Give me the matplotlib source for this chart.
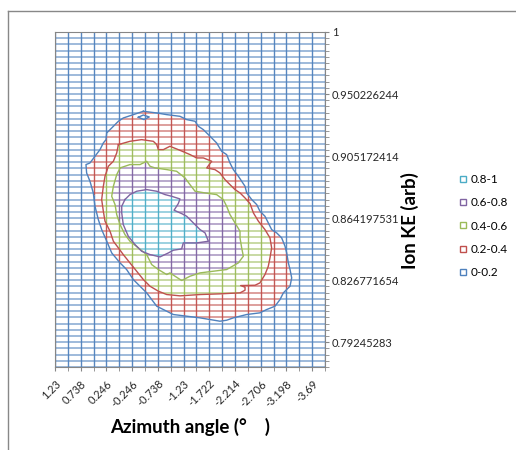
import matplotlib.pyplot as plt
import numpy as np
from matplotlib.collections import LineCollection
from matplotlib.lines import Line2D
from matplotlib.path import Path

plt.rcParams['font.family'] = ['Lato', 'DejaVu Sans']

# categories: azimuth columns and ion KE rows (every 2nd / 10th labelled)
azimuth_labels = ['1.23', '0.738', '0.246', '-0.246', '-0.738', '-1.23',
                  '-1.722', '-2.214', '-2.706', '-3.198', '-3.69']
ke_labels = ['1', '0.950226244', '0.905172414', '0.864197531',
             '0.826771654', '0.79245283']
n_cols = 22
n_rows = 55

band_names = ['0-0.2', '0.2-0.4', '0.4-0.6', '0.6-0.8', '0.8-1']
band_colors = ['#4F81BD', '#C0504D', '#9BBB59', '#8064A2', '#4BACC6']

# contour outlines, in (column, row) units
level_02 = [(6.87, 12.78), (7.91, 13.05), (8.69, 13.32), (9.72, 13.59), (10.24, 14.12),
            (10.89, 14.39), (11.15, 15.2), (11.54, 15.74), (12.06, 16.81), (12.57, 17.88),
            (12.96, 19.23), (13.35, 19.76), (13.61, 21.11), (13.87, 22.18), (14.26, 23.25),
            (14.52, 24.06), (14.78, 24.87), (14.91, 25.94), (15.3, 27.01), (15.69, 27.82),
            (15.94, 28.89), (16.33, 29.7), (16.59, 30.77), (16.85, 31.85), (17.24, 32.38),
            (17.63, 33.19), (17.89, 34.53), (18.02, 35.61), (18.15, 37.22), (18.28, 38.29),
            (18.41, 39.63), (18.28, 40.98), (18.02, 41.51), (17.76, 42.05), (17.5, 43.13),
            (17.11, 44.2), (16.46, 44.74), (15.94, 45.27), (14.91, 45.54), (13.87, 46.08),
            (13.35, 46.46), (12.83, 46.62), (12.06, 46.35), (11.28, 46.08), (10.24, 45.81),
            (9.2, 45.54), (8.43, 44.74), (7.91, 44.2), (7.13, 42.05), (6.61, 40.98),
            (6.09, 39.9), (5.57, 38.29), (5.06, 37.22), (4.41, 35.61), (3.97, 33.46),
            (3.63, 31.85), (3.37, 30.24), (3.11, 28.09), (2.98, 25.94), (2.72, 24.06),
            (2.46, 22.72), (2.41, 21.37), (2.72, 21.11), (3.11, 20.03), (3.5, 18.96),
            (3.76, 17.88), (3.97, 17.35), (4.02, 16.27), (4.28, 15.74), (4.54, 15.2),
            (4.93, 14.39), (5.31, 13.86), (6.09, 13.32)]
island_02 = [(6.48, 13.75), (6.87, 13.38), (7.33, 13.7), (6.92, 14.12)]
level_04 = [(4.93, 18.15), (5.83, 17.62), (6.74, 17.35), (7.65, 17.62), (7.91, 18.15),
            (8.04, 18.96), (8.43, 18.96), (8.94, 18.42), (9.72, 19.07), (10.5, 19.76),
            (11.02, 20.3), (11.54, 20.3), (12.19, 20.84), (11.8, 21.91), (12.44, 22.18),
            (12.83, 22.72), (13.22, 23.79), (13.61, 24.6), (14.0, 25.4), (14.39, 25.94),
            (14.78, 26.75), (15.17, 27.66), (15.43, 29.16), (15.82, 30.5), (16.33, 31.85),
            (16.72, 33.19), (16.85, 34.8), (16.72, 36.41), (16.59, 37.76), (16.33, 39.1),
            (15.94, 40.44), (15.56, 40.82), (14.44, 40.87), (14.78, 41.14), (14.78, 41.62),
            (14.39, 42.05), (12.83, 42.21), (11.28, 42.32), (9.72, 42.53), (8.69, 42.32),
            (8.04, 41.78), (7.39, 40.98), (6.87, 39.9), (6.35, 38.56), (5.83, 37.22),
            (5.31, 35.88), (4.93, 34.8), (4.54, 33.73), (4.28, 32.12), (3.89, 30.5),
            (3.76, 28.89), (3.63, 27.01), (3.76, 24.87), (3.89, 23.25), (4.15, 21.64),
            (4.54, 20.84), (4.8, 19.5)]
level_06 = [(5.06, 21.91), (5.83, 21.37), (6.61, 21.37), (7.13, 20.84), (7.39, 21.64),
            (7.78, 21.91), (8.69, 22.18), (9.46, 22.45), (10.11, 23.52), (10.5, 24.6),
            (10.89, 25.67), (11.67, 25.94), (12.57, 26.21), (13.09, 27.01), (13.35, 28.09),
            (13.61, 29.43), (14.0, 30.77), (14.39, 32.12), (14.39, 33.19), (14.52, 34.8),
            (14.65, 36.14), (14.26, 37.22), (13.35, 38.29), (12.32, 38.56), (11.28, 38.83),
            (10.5, 39.37), (9.85, 40.06), (8.94, 38.83), (8.69, 39.1), (8.04, 38.29),
            (7.52, 37.49), (7.13, 35.88), (6.48, 34.8), (5.83, 33.73), (5.44, 32.65),
            (5.06, 31.04), (4.8, 29.43), (4.67, 27.82), (4.41, 26.48), (4.54, 24.87),
            (4.8, 22.99)]
level_08 = [(5.44, 27.01), (5.83, 26.21), (6.35, 25.67), (7.13, 25.4), (7.91, 25.67),
            (8.56, 26.21), (9.07, 26.48), (9.72, 26.91), (9.59, 27.66), (9.26, 28.73),
            (9.85, 29.27), (10.24, 29.7), (10.89, 31.04), (11.28, 31.85), (11.67, 32.38),
            (11.93, 33.73), (11.02, 34.0), (9.98, 34.0), (9.85, 34.96), (9.2, 35.18),
            (8.82, 35.61), (8.17, 36.25), (7.39, 35.88), (6.74, 35.34), (6.22, 34.26),
            (5.7, 32.92), (5.31, 31.04), (5.19, 29.16), (5.19, 28.09)]

levels = [level_02, level_04, level_06, level_08]
paths = [Path(np.array(lv)) for lv in levels]
island = Path(np.array(island_02))


def band_of(pts):
    b = np.zeros(len(pts), dtype=int)
    for p in paths:
        b += p.contains_points(pts)
    b[island.contains_points(pts)] = 0
    return b


def split_line(xs, ys):
    # break one grid line into pieces of constant band
    pts = np.column_stack([xs, ys])
    b = band_of((pts[:-1] + pts[1:]) / 2)
    segs, cols = [], []
    start = 0
    for j in range(1, len(b) + 1):
        if j == len(b) or b[j] != b[start]:
            segs.append([pts[start], pts[j]])
            cols.append(band_colors[b[start]])
            start = j
    return segs, cols


fig = plt.figure(figsize=(5.16, 4.5), dpi=100)
ax = fig.add_axes([55 / 516, 1 - 367 / 450, 270 / 516, 335 / 450])

h_segs, h_cols = [], []
xs = np.linspace(0, n_cols - 1, 841)
for r in range(n_rows):
    s, c = split_line(xs, np.full_like(xs, r))
    h_segs += s
    h_cols += c
v_segs, v_cols = [], []
ys = np.linspace(0, n_rows - 1, 1081)
for ci in range(n_cols):
    s, c = split_line(np.full_like(ys, ci), ys)
    v_segs += s
    v_cols += c

ax.add_collection(LineCollection(h_segs, colors=h_cols, linewidths=1.4, alpha=0.55,
                                 capstyle='butt'))
ax.add_collection(LineCollection(v_segs, colors=v_cols, linewidths=1.0, alpha=0.95,
                                 capstyle='butt'))

for lv, col in zip(levels, band_colors[:4]):
    arr = np.array(lv + [lv[0]])
    ax.plot(arr[:, 0], arr[:, 1], color=col, lw=1.0)
arr = np.array(island_02 + [island_02[0]])
ax.plot(arr[:, 0], arr[:, 1], color=band_colors[0], lw=1.0)

ax.set_xlim(0, n_cols - 1)
ax.set_ylim(n_rows - 1, 0)

ax.set_xticks(range(0, n_cols - 1, 2))
ax.set_xticklabels(azimuth_labels, rotation=45, ha='right', va='top',
                   rotation_mode='anchor')
ax.set_xticks(range(n_cols), minor=True)
ax.yaxis.tick_right()
ax.set_yticks(range(0, n_rows - 1, 10))
ax.set_yticklabels(ke_labels)
ax.set_yticks(range(n_rows), minor=True)
ax.tick_params(axis='x', which='both', direction='out', length=3, color='#868686',
               labelsize=8, pad=5, labelcolor='#262626')
ax.tick_params(axis='y', which='both', direction='out', length=3, color='#868686',
               labelsize=8, pad=2, labelcolor='#262626')
for sp in ax.spines.values():
    sp.set_color('#868686')
    sp.set_linewidth(0.8)

fig.text(190 / 516, 1 - 427 / 450, 'Azimuth angle (°    )', ha='center', va='center',
         fontsize=13.5, fontweight='bold')
fig.text(410 / 516, 1 - 221 / 450, 'Ion KE (arb)', ha='center', va='center',
         rotation=90, fontsize=13.5, fontweight='bold')

handles = [Line2D([], [], ls='none', marker='s', markersize=5, markerfacecolor='white',
                  markeredgecolor=c, markeredgewidth=1.0) for c in band_colors[::-1]]
fig.legend(handles, band_names[::-1], loc='center left',
           bbox_to_anchor=(453 / 516, 1 - 226 / 450), frameon=False, fontsize=8.5,
           handlelength=0.7, handletextpad=0.3, labelspacing=1.05, borderpad=0)

# outer chart frame (clipped at right and bottom)
fig.add_artist(Line2D([8 / 516, 1.0], [1 - 11 / 450, 1 - 11 / 450],
                      transform=fig.transFigure, color='#888888', lw=1.0))
fig.add_artist(Line2D([8 / 516, 8 / 516], [1 - 11 / 450, 0.0],
                      transform=fig.transFigure, color='#888888', lw=1.0))

fig.savefig('out.png', dpi=100)
